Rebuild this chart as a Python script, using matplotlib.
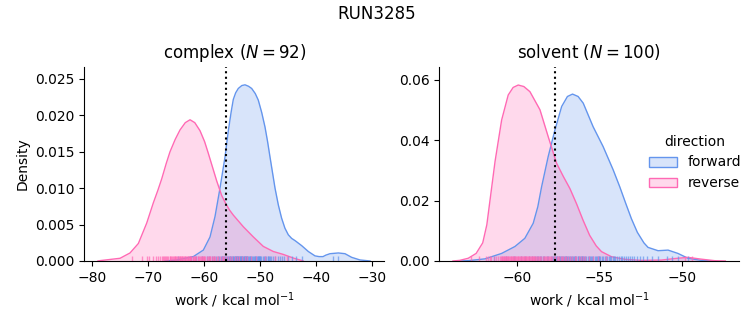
import matplotlib
matplotlib.use("Agg")
import matplotlib.pyplot as plt
from matplotlib.patches import Patch

# colours per direction
FWD_COLOR = "cornflowerblue"
REV_COLOR = "hotpink"

# ---- complex leg: KDE curves ----
complex_fwd_x = [-67.0, -64.9, -61.96, -60.17, -58.98, -58.09, -57.2, -56.3, -55.71, -55.2,
                 -54.82, -54.4, -53.93, -53.3, -52.73, -52.1, -51.54, -50.9, -50.36, -49.75,
                 -49.16, -48.7, -48.27, -47.37, -46.78, -46.2, -45.6, -45.0, -44.4, -43.8,
                 -42.6, -41.42, -40.23, -39.5, -38.8, -38.3, -37.55, -36.06, -34.87, -33.68,
                 -32.2, -30.4]
complex_fwd_y = [0.0, 0.00014, 0.0006, 0.0015, 0.0033, 0.0061, 0.0100, 0.0143, 0.0179, 0.0205,
                 0.0222, 0.0231, 0.0237, 0.0241, 0.0242, 0.0240, 0.0237, 0.0230, 0.0221, 0.0204,
                 0.0184, 0.0164, 0.0143, 0.0100, 0.0077, 0.0059, 0.0045, 0.0036, 0.0031, 0.0028,
                 0.0021, 0.0013, 0.0007, 0.0006, 0.0006, 0.0008, 0.0010, 0.0011, 0.0010, 0.0005,
                 0.00014, 0.0]
complex_rev_x = [-79.0, -78.6, -75.05, -73.27, -71.78, -70.29, -69.1, -68.3, -67.6, -66.8,
                 -66.13, -65.2, -64.34, -63.4, -62.55, -61.7, -60.77, -59.95, -59.29, -58.5,
                 -57.79, -56.9, -56.19, -55.5, -54.82, -53.03, -51.24, -49.46, -47.67, -45.89,
                 -44.1, -42.32]
complex_rev_y = [0.0, 0.00005, 0.00037, 0.0011, 0.0024, 0.0052, 0.0080, 0.0097, 0.0113, 0.0134,
                 0.0150, 0.0167, 0.0180, 0.0190, 0.0194, 0.0190, 0.0179, 0.0164, 0.0148, 0.0128,
                 0.0110, 0.0090, 0.0079, 0.0070, 0.0063, 0.0047, 0.0033, 0.0020, 0.0013, 0.0009,
                 0.0004, 0.0]

# ---- solvent leg: KDE curves ----
solvent_fwd_x = [-63.5, -62.98, -61.96, -60.95, -60.14, -59.54, -59.03, -58.75, -58.52, -58.12,
                 -57.71, -57.3, -56.95, -56.64, -56.3, -55.99, -55.39, -54.78, -54.17, -53.77,
                 -53.4, -53.06, -52.7, -52.3, -52.05, -51.44, -50.83, -50.23, -49.62, -48.81,
                 -48.0]
solvent_fwd_y = [0.0, 0.0001, 0.0007, 0.0025, 0.0048, 0.0075, 0.0125, 0.0180, 0.0246, 0.0346,
                 0.0434, 0.0512, 0.0545, 0.0553, 0.0545, 0.0523, 0.0445, 0.0379, 0.0302, 0.0246,
                 0.0190, 0.0140, 0.0095, 0.0060, 0.0045, 0.0034, 0.0036, 0.0025, 0.0009, 0.0002,
                 0.0]
solvent_rev_x = [-63.91, -63.5, -62.98, -62.5, -62.1, -61.85, -61.66, -61.35, -60.95, -60.55,
                 -60.25, -59.94, -59.6, -59.23, -58.62, -58.12, -57.61, -57.2, -56.8, -56.4,
                 -56.0, -55.6, -55.2, -54.88, -54.27, -53.46, -52.45, -51.24, -50.43, -49.62,
                 -48.81, -48.0, -47.35]
solvent_rev_y = [0.0, 0.0002, 0.0009, 0.0025, 0.0060, 0.0120, 0.0200, 0.0330, 0.0467, 0.0550,
                 0.0575, 0.0583, 0.0578, 0.0561, 0.0501, 0.0412, 0.0324, 0.0280, 0.0240, 0.0190,
                 0.0135, 0.0085, 0.0050, 0.0031, 0.0014, 0.00055, 0.0002, 0.0003, 0.0008, 0.0012,
                 0.0006, 0.0001, 0.0]

# ---- individual work values (rug) ----
complex_fwd_work = [
    -64.7, -62.3, -61.5, -60.4, -59.6, -59.1, -58.7, -58.2,
    -57.9, -57.6, -57.3, -57.1, -56.9, -56.8, -56.6, -56.4, -56.3, -56.1,
    -55.9, -55.8, -55.6, -55.5, -55.4, -55.2, -55.1, -54.9, -54.8, -54.7, -54.6, -54.5,
    -54.4, -54.3, -54.2, -54.1, -54.0,
    -53.9, -53.8, -53.7, -53.6, -53.5, -53.4, -53.3, -53.2, -53.1, -53.0, -52.9, -52.8,
    -52.7, -52.6, -52.5, -52.4, -52.3, -52.2, -52.1,
    -51.9, -51.8, -51.6, -51.5, -51.3, -51.2, -51.0, -50.9, -50.8, -50.6, -50.5, -50.4,
    -50.3, -50.2, -50.1, -50.0,
    -49.8, -49.6, -49.3, -49.1, -48.9, -48.7, -48.6, -48.4, -48.2, -48.1,
    -47.8, -47.3, -46.9, -46.5, -46.2, -45.7, -45.0, -44.3, -43.6, -42.5, -37.0, -36.2]
complex_rev_work = [
    -72.9, -71.1, -70.2, -69.8, -69.1, -68.6, -68.2,
    -67.9, -67.6, -67.4, -67.2, -67.0, -66.8, -66.6, -66.4, -66.2, -66.1,
    -65.9, -65.8, -65.6, -65.5, -65.3, -65.2, -65.0, -64.9, -64.7, -64.6, -64.4, -64.3,
    -64.2, -64.0,
    -63.9, -63.8, -63.7, -63.5, -63.4, -63.3, -63.1, -63.0, -62.9, -62.7, -62.6, -62.5,
    -62.4, -62.3, -62.1, -62.0,
    -61.9, -61.7, -61.6, -61.4, -61.2, -61.1, -60.9, -60.8, -60.6, -60.5, -60.4, -60.3,
    -60.1, -60.0,
    -59.8, -59.6, -59.4, -59.2, -59.0, -58.9, -58.7, -58.5, -58.3, -58.1,
    -57.8, -57.5, -57.2, -56.9, -56.6, -56.4, -56.1,
    -55.8, -55.4, -55.0, -54.6, -54.2, -53.8, -53.3, -52.8, -52.3,
    -51.6, -50.7, -49.2, -47.4, -45.3]
solvent_fwd_work = [
    -61.4, -60.7, -60.2, -59.8, -59.5, -59.3, -59.1,
    -58.93, -58.81, -58.72, -58.64, -58.55, -58.43, -58.36, -58.22, -58.11,
    -57.96, -57.88, -57.83, -57.79, -57.71, -57.66, -57.60, -57.57, -57.49, -57.44,
    -57.38, -57.32, -57.27, -57.21, -57.16, -57.10, -57.06, -57.02,
    -56.97, -56.91, -56.84, -56.80, -56.73, -56.69, -56.62, -56.55, -56.51, -56.46,
    -56.40, -56.33, -56.29, -56.22, -56.18, -56.12, -56.08, -56.04, -56.01,
    -55.95, -55.87, -55.80, -55.71, -55.66, -55.58, -55.50, -55.43, -55.37, -55.30,
    -55.24, -55.18, -55.12, -55.06, -55.02,
    -54.94, -54.86, -54.77, -54.69, -54.60, -54.52, -54.44, -54.37, -54.28, -54.19,
    -54.10, -54.03,
    -53.91, -53.82, -53.70, -53.61, -53.49, -53.38, -53.27, -53.15, -53.05,
    -52.88, -52.71, -52.52, -52.34, -52.12, -51.83, -51.42, -50.92, -50.58, -50.21, -49.64]
solvent_rev_work = [
    -62.81, -62.33,
    -61.92, -61.78, -61.66, -61.57, -61.44, -61.31, -61.19, -61.07,
    -60.98, -60.95, -60.91, -60.87, -60.83, -60.79, -60.75, -60.71, -60.66, -60.62,
    -60.58, -60.54, -60.49, -60.45, -60.41, -60.37, -60.32, -60.28, -60.24, -60.19,
    -60.15, -60.11, -60.06, -60.02,
    -59.97, -59.93, -59.88, -59.84, -59.79, -59.75, -59.71, -59.66, -59.62, -59.57,
    -59.53, -59.48, -59.44, -59.40, -59.35, -59.31, -59.26, -59.22, -59.17, -59.13,
    -59.09, -59.05, -59.01,
    -58.96, -58.90, -58.84, -58.78, -58.71, -58.65, -58.59, -58.53, -58.46, -58.40,
    -58.33, -58.27, -58.21, -58.14, -58.08, -58.02,
    -57.94, -57.86, -57.78, -57.70, -57.61, -57.53, -57.44, -57.36, -57.27, -57.19,
    -57.10, -57.03,
    -56.92, -56.79, -56.66, -56.52, -56.40, -56.27, -56.14, -56.03,
    -55.87, -55.61, -55.38, -55.12, -54.63, -49.81, -49.35]

# free energy estimate marked by the dotted line
complex_dg = -56.15
solvent_dg = -57.71

panels = [
    ("complex", 92, complex_fwd_x, complex_fwd_y, complex_rev_x, complex_rev_y,
     complex_fwd_work, complex_rev_work, complex_dg, (-81.43, -27.9), 0.0267,
     [-80, -70, -60, -50, -40, -30]),
    ("solvent", 100, solvent_fwd_x, solvent_fwd_y, solvent_rev_x, solvent_rev_y,
     solvent_fwd_work, solvent_rev_work, solvent_dg, (-64.74, -46.52), 0.0644,
     [-60, -55, -50]),
]

fig = plt.figure(figsize=(7.53, 3.25), dpi=100)
fig.suptitle("RUN3285", fontsize=12, y=0.985)

lefts = [0.112, 0.5834]
for left, (name, n, fx, fy, rx, ry, fwork, rwork, dg, xlim, ytop, xticks) in zip(lefts, panels):
    ax = fig.add_axes([left, 0.197, 0.398, 0.598])

    # KDE curves
    for x, y, c in [(fx, fy, FWD_COLOR), (rx, ry, REV_COLOR)]:
        ax.fill_between(x, y, 0, color=c, alpha=0.25, linewidth=0)
        ax.plot(x, y, color=c, linewidth=1, solid_joinstyle="round")

    # rug of individual work values
    for w, c in [(fwork, FWD_COLOR), (rwork, REV_COLOR)]:
        ax.vlines(w, 0, 0.025, transform=ax.get_xaxis_transform(),
                  color=c, alpha=0.7, linewidth=1)

    ax.axvline(dg, color="black", linestyle=":", linewidth=1.5)

    ax.set_xlim(*xlim)
    ax.set_ylim(0, ytop)
    ax.set_xticks(xticks)
    ax.set_title(f"{name} ($N = {n}$)", fontsize=12)
    ax.set_xlabel("work / kcal mol$^{-1}$")
    if name == "complex":
        ax.set_ylabel("Density")
    ax.spines["top"].set_visible(False)
    ax.spines["right"].set_visible(False)

handles = [
    Patch(facecolor=(100/255, 149/255, 237/255, 0.25), edgecolor=FWD_COLOR, linewidth=1),
    Patch(facecolor=(1.0, 105/255, 180/255, 0.25), edgecolor=REV_COLOR, linewidth=1),
]
fig.legend(handles, ["forward", "reverse"], title="direction", frameon=False,
           loc="center left", bbox_to_anchor=(0.845, 0.50), fontsize=10, title_fontsize=10)

fig.savefig("out.png", dpi=100)
